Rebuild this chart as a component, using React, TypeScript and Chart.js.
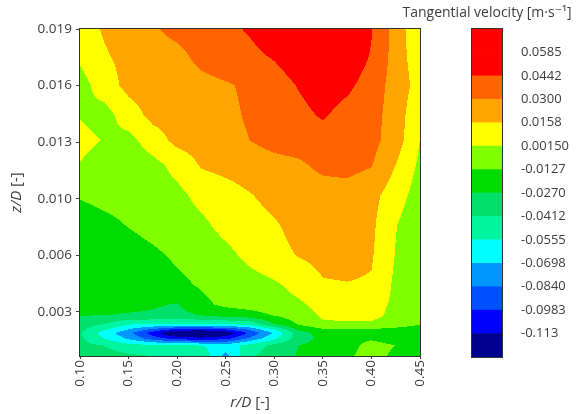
import React, { useEffect, useRef } from 'react';
import { Chart, registerables } from 'chart.js';

Chart.register(...registerables);

// ---------- DATA ----------
// radial positions r/D of the measurement grid (columns)
const rPositions = [0.100, 0.125, 0.150, 0.175, 0.200, 0.225, 0.250, 0.275, 0.300, 0.325, 0.350, 0.375, 0.400, 0.425, 0.450];
// axial positions z/D of the measurement grid (rows, top to bottom)
const zPositions = [0.0190, 0.0175, 0.0158, 0.0141, 0.0127, 0.0113, 0.0096, 0.0079, 0.0062, 0.0045, 0.0034, 0.0028, 0.0023, 0.0020, 0.0018, 0.0015, 0.0011, 0.0005];

// tangential velocity [m/s] per row (one value per r/D column)
const vel_z0190 = [0.0101, 0.0172, 0.0229, 0.0287, 0.0337, 0.0373, 0.0408, 0.0458, 0.0530, 0.0587, 0.0630, 0.0587, 0.0451, 0.0244, 0.0029];
const vel_z0175 = [0.0043, 0.0144, 0.0201, 0.0244, 0.0265, 0.0337, 0.0373, 0.0408, 0.0458, 0.0530, 0.0587, 0.0559, 0.0430, 0.0244, 0.0058];
const vel_z0158 = [-0.0042, 0.0086, 0.0201, 0.0229, 0.0244, 0.0265, 0.0287, 0.0322, 0.0373, 0.0451, 0.0516, 0.0473, 0.0373, 0.0244, 0.0101];
const vel_z0141 = [0.0008, -0.0042, 0.0086, 0.0201, 0.0215, 0.0244, 0.0272, 0.0315, 0.0358, 0.0401, 0.0458, 0.0387, 0.0344, 0.0244, 0.0029];
const vel_z0127 = [0.0058, 0.0008, -0.0028, 0.0086, 0.0201, 0.0229, 0.0258, 0.0301, 0.0344, 0.0358, 0.0373, 0.0358, 0.0344, 0.0229, 0.0012];
const vel_z0113 = [0.0008, -0.0057, -0.0071, -0.0028, 0.0058, 0.0172, 0.0201, 0.0229, 0.0258, 0.0280, 0.0330, 0.0344, 0.0308, 0.0156, -0.0014];
const vel_z0096 = [-0.0114, -0.0085, -0.0071, -0.0050, -0.0021, 0.0058, 0.0101, 0.0151, 0.0201, 0.0229, 0.0244, 0.0244, 0.0201, 0.0086, -0.0057];
const vel_z0079 = [-0.0200, -0.0164, -0.0121, -0.0085, -0.0057, -0.0014, 0.0058, 0.0101, 0.0144, 0.0201, 0.0229, 0.0229, 0.0187, 0.0022, -0.0100];
const vel_z0062 = [-0.0229, -0.0207, -0.0186, -0.0150, -0.0107, -0.0064, -0.0021, 0.0051, 0.0115, 0.0165, 0.0201, 0.0208, 0.0172, 0.0008, -0.0100];
const vel_z0045 = [-0.0243, -0.0229, -0.0214, -0.0193, -0.0157, -0.0114, -0.0078, -0.0042, -0.0007, 0.0058, 0.0144, 0.0151, 0.0144, -0.0014, -0.0114];
const vel_z0034 = [-0.0243, -0.0243, -0.0243, -0.0257, -0.0279, -0.0157, -0.0100, -0.0071, -0.0042, -0.0007, 0.0058, 0.0072, 0.0072, -0.0014, -0.0085];
const vel_z0028 = [-0.0268, -0.0268, -0.0279, -0.0286, -0.0314, -0.0268, -0.0214, -0.0186, -0.0121, -0.0057, 0.0036, 0.0058, 0.0058, -0.0028, -0.0100];
const vel_z0023 = [-0.0357, -0.0415, -0.0543, -0.0558, -0.0558, -0.0558, -0.0558, -0.0515, -0.0271, -0.0114, -0.0007, -0.0007, -0.0007, -0.0071, -0.0121];
const vel_z0020 = [-0.0372, -0.0529, -0.0701, -0.0872, -0.1030, -0.1030, -0.0987, -0.0815, -0.0558, -0.0243, -0.0143, -0.0143, -0.0143, -0.0157, -0.0186];
const vel_z0018 = [-0.0397, -0.0618, -0.0801, -0.1050, -0.1350, -0.1402, -0.1250, -0.0950, -0.0678, -0.0329, -0.0214, -0.0186, -0.0157, -0.0200, -0.0229];
const vel_z0015 = [-0.0386, -0.0558, -0.0729, -0.0915, -0.1058, -0.1087, -0.1044, -0.0815, -0.0586, -0.0343, -0.0229, -0.0171, -0.0143, -0.0186, -0.0214];
const vel_z0011 = [-0.0372, -0.0415, -0.0500, -0.0529, -0.0543, -0.0558, -0.0629, -0.0500, -0.0372, -0.0271, -0.0214, -0.0171, -0.0085, -0.0128, -0.0186];
const vel_z0005 = [-0.0343, -0.0357, -0.0386, -0.0415, -0.0443, -0.0443, -0.0744, -0.0429, -0.0343, -0.0257, -0.0200, -0.0143, -0.0085, -0.0150, -0.0200];

const velocityRows = [
  vel_z0190, vel_z0175, vel_z0158, vel_z0141, vel_z0127, vel_z0113, vel_z0096, vel_z0079, vel_z0062,
  vel_z0045, vel_z0034, vel_z0028, vel_z0023, vel_z0020, vel_z0018, vel_z0015, vel_z0011, vel_z0005,
];

// contour levels and colour bar
const levelValues = [-0.113, -0.0983, -0.0840, -0.0698, -0.0555, -0.0412, -0.0270, -0.0127, 0.0015, 0.0158, 0.0300, 0.0442, 0.0585];
const levelLabels = ['-0.113', '-0.0983', '-0.0840', '-0.0698', '-0.0555', '-0.0412', '-0.0270', '-0.0127', '0.00150', '0.0158', '0.0300', '0.0442', '0.0585'];
const bandColors = ['#00008f', '#0000ff', '#0050ff', '#0096ff', '#00ffff', '#00f5a0', '#00e06a', '#00dc00', '#80ff00', '#ffff00', '#ffa500', '#ff6400', '#ff0000', '#ff0000'];
const bandSpan = [1];

// axes
const rTicks = [0.10, 0.15, 0.20, 0.25, 0.30, 0.35, 0.40, 0.45];
const rTickLabels = ['0.10', '0.15', '0.20', '0.25', '0.30', '0.35', '0.40', '0.45'];
const zTicks = [0.0030, 0.0062, 0.0094, 0.0126, 0.0158, 0.0190];
const zTickLabels = ['0.003', '0.006', '0.010', '0.013', '0.016', '0.019'];
const zMin = 0.0005;
const zMax = 0.019;

const xTitleParts = [{ text: 'r/D', italic: true }, { text: ' [-]', italic: false }];
const yTitleParts = [{ text: 'z/D', italic: true }, { text: ' [-]', italic: false }];
const colorbarTitle = 'Tangential velocity [m·s⁻¹]';

// ---------- HELPERS ----------
const FONT = '"Open Sans", "DejaVu Sans", sans-serif';
const TEXT_COLOR = '#3c3c3c';

function hexToRgb(h: string): [number, number, number] {
  const n = parseInt(h.slice(1), 16);
  return [(n >> 16) & 255, (n >> 8) & 255, n & 255];
}
const bandRgb = bandColors.map(hexToRgb);

function sampleField(r: number, z: number): number {
  let i = 0;
  while (i < rPositions.length - 2 && r > rPositions[i + 1]) i++;
  let tx = (r - rPositions[i]) / (rPositions[i + 1] - rPositions[i]);
  tx = Math.max(0, Math.min(1, tx));
  let j = 0;
  while (j < zPositions.length - 2 && z < zPositions[j + 1]) j++;
  let ty = (zPositions[j] - z) / (zPositions[j] - zPositions[j + 1]);
  ty = Math.max(0, Math.min(1, ty));
  const a = velocityRows[j][i];
  const b = velocityRows[j][i + 1];
  const c = velocityRows[j + 1][i];
  const d = velocityRows[j + 1][i + 1];
  return a * (1 - tx) * (1 - ty) + b * tx * (1 - ty) + c * (1 - tx) * ty + d * tx * ty;
}

function bandIndex(v: number): number {
  let k = 0;
  while (k < levelValues.length && v >= levelValues[k]) k++;
  return k;
}

function drawMixed(ctx: CanvasRenderingContext2D, parts: { text: string; italic: boolean }[], cx: number, cy: number, rotate: boolean, size: number) {
  ctx.save();
  ctx.translate(cx, cy);
  if (rotate) ctx.rotate(-Math.PI / 2);
  ctx.fillStyle = TEXT_COLOR;
  ctx.textBaseline = 'middle';
  ctx.textAlign = 'left';
  const fontOf = (it: boolean) => `${it ? 'italic ' : ''}${size}px ${FONT}`;
  let total = 0;
  const widths = parts.map((p) => {
    ctx.font = fontOf(p.italic);
    const w = ctx.measureText(p.text).width;
    total += w;
    return w;
  });
  let x = -total / 2;
  parts.forEach((p, idx) => {
    ctx.font = fontOf(p.italic);
    ctx.fillText(p.text, x, 0);
    x += widths[idx];
  });
  ctx.restore();
}

function strokeArea(ctx: CanvasRenderingContext2D, chartArea: any) {
  ctx.save();
  ctx.strokeStyle = '#333333';
  ctx.lineWidth = 1;
  const l = Math.round(chartArea.left);
  const t = Math.round(chartArea.top);
  ctx.strokeRect(l - 0.5, t - 0.5, Math.round(chartArea.right) - l + 1, Math.round(chartArea.bottom) - t + 1);
  ctx.restore();
}

const contourPlugin = {
  id: 'contourField',
  beforeDatasetsDraw(chart: any) {
    const { ctx, chartArea, scales } = chart;
    const xs = scales.x;
    const ys = scales.y;
    const left = Math.round(chartArea.left);
    const top = Math.round(chartArea.top);
    const w = Math.round(chartArea.right) - left;
    const h = Math.round(chartArea.bottom) - top;
    const off = document.createElement('canvas');
    off.width = w;
    off.height = h;
    const octx = off.getContext('2d')!;
    const img = octx.createImageData(w, h);
    const rCol: number[] = [];
    for (let i = 0; i < w; i++) rCol.push(xs.getValueForPixel(left + i + 0.5));
    for (let j = 0; j < h; j++) {
      const z = ys.getValueForPixel(top + j + 0.5);
      for (let i = 0; i < w; i++) {
        const v = sampleField(rCol[i], z);
        const c = bandRgb[bandIndex(v)];
        const p = (j * w + i) * 4;
        img.data[p] = c[0];
        img.data[p + 1] = c[1];
        img.data[p + 2] = c[2];
        img.data[p + 3] = 255;
      }
    }
    octx.putImageData(img, 0, 0);
    ctx.drawImage(off, left, top);
  },
  afterDraw(chart: any) {
    const { ctx, chartArea } = chart;
    strokeArea(ctx, chartArea);
    drawMixed(ctx, xTitleParts, (chartArea.left + chartArea.right) / 2, 403, false, 15);
    drawMixed(ctx, yTitleParts, 17, (chartArea.top + chartArea.bottom) / 2, true, 15);
  },
};

const cbPlugin = {
  id: 'cbFrame',
  afterDraw(chart: any) {
    const { ctx, chartArea } = chart;
    strokeArea(ctx, chartArea);
    ctx.save();
    ctx.fillStyle = TEXT_COLOR;
    ctx.font = `14px ${FONT}`;
    ctx.textAlign = 'center';
    ctx.textBaseline = 'middle';
    ctx.fillText(colorbarTitle, (chartArea.left + chartArea.right) / 2, 13);
    ctx.restore();
  },
};

export default function App() {
  const mainRef = useRef<HTMLCanvasElement>(null);
  const cbRef = useRef<HTMLCanvasElement>(null);

  useEffect(() => {
    const tickFont = { family: FONT, size: 13.5 };
    const main = new Chart(mainRef.current!, {
      type: 'scatter',
      data: { datasets: [] },
      options: {
        responsive: false,
        animation: false,
        devicePixelRatio: 1,
        layout: { padding: { left: 0, right: 20, top: 29, bottom: 0 } },
        plugins: { legend: { display: false }, tooltip: { enabled: false } },
        scales: {
          x: {
            type: 'linear',
            min: rTicks[0],
            max: rTicks[rTicks.length - 1],
            afterBuildTicks: (s: any) => { s.ticks = rTicks.map((v) => ({ value: v })); },
            afterFit: (s: any) => { s.height = 58; },
            ticks: {
              autoSkip: false,
              minRotation: 90,
              maxRotation: 90,
              padding: 1,
              color: TEXT_COLOR,
              font: tickFont,
              callback: (_v: any, i: number) => rTickLabels[i],
            },
            grid: { drawOnChartArea: false, drawTicks: true, tickLength: 3, color: '#404040' },
            border: { display: false },
          },
          y: {
            type: 'linear',
            min: zMin,
            max: zMax,
            afterBuildTicks: (s: any) => { s.ticks = zTicks.map((v) => ({ value: v })); },
            afterFit: (s: any) => { s.width = 80; },
            ticks: {
              padding: 4,
              color: TEXT_COLOR,
              font: tickFont,
              callback: (_v: any, i: number) => zTickLabels[i],
            },
            grid: { drawOnChartArea: false, drawTicks: true, tickLength: 4, color: '#404040' },
            border: { display: false },
          },
        },
      },
      plugins: [contourPlugin],
    } as any);

    const cb = new Chart(cbRef.current!, {
      type: 'bar',
      data: {
        labels: [''],
        datasets: bandColors.map((c) => ({
          data: bandSpan,
          backgroundColor: c,
          borderWidth: 0,
          barPercentage: 1,
          categoryPercentage: 1,
          stack: 'bar',
        })),
      },
      options: {
        responsive: false,
        animation: false,
        devicePixelRatio: 1,
        layout: { padding: { left: 92, right: 0, top: 29, bottom: 57 } },
        plugins: {
          legend: { display: false },
          tooltip: { enabled: false },
          title: { display: false },
        },
        scales: {
          x: { display: false, stacked: true },
          y: {
            stacked: true,
            position: 'right',
            min: 0,
            max: bandColors.length,
            afterBuildTicks: (s: any) => { s.ticks = levelValues.map((_v, i) => ({ value: i + 1 })); },
            afterFit: (s: any) => { s.width = 77; },
            ticks: {
              padding: 11,
              color: TEXT_COLOR,
              font: { family: FONT, size: 13 },
              callback: (_v: any, i: number) => levelLabels[i],
            },
            grid: { display: false },
            border: { display: false },
          },
        },
      },
      plugins: [cbPlugin],
    } as any);

    return () => {
      main.destroy();
      cb.destroy();
    };
  }, []);

  return (
    <div style={{ position: 'absolute', left: 0, top: 0, width: 579, height: 414, background: '#ffffff', overflow: 'hidden' }}>
      <canvas ref={mainRef} width={440} height={414} style={{ position: 'absolute', left: 0, top: 0 }} />
      <canvas ref={cbRef} width={199} height={414} style={{ position: 'absolute', left: 380, top: 0 }} />
    </div>
  );
}
